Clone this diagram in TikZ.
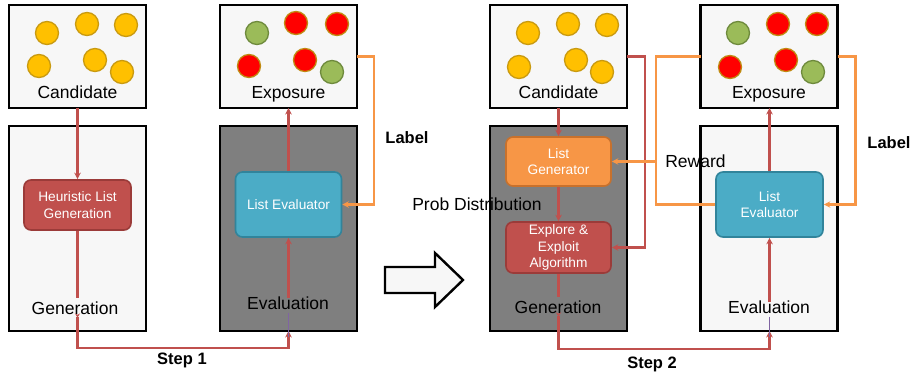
\documentclass[tikz,border=0pt]{standalone}
\usepackage{fontspec}
\setmainfont{Liberation Sans}
\usetikzlibrary{arrows.meta,calc}
\definecolor{boxfill}{HTML}{F7F7F7}
\definecolor{darkfill}{HTML}{7F7F7F}
\definecolor{ycfill}{HTML}{FFC000}
\definecolor{ycdraw}{HTML}{C99A10}
\definecolor{rcfill}{HTML}{FF0000}
\definecolor{rcdraw}{HTML}{C08A10}
\definecolor{gcfill}{HTML}{9BBB59}
\definecolor{gcdraw}{HTML}{6E8A3C}
\definecolor{redc}{HTML}{C0504D}
\definecolor{redcd}{HTML}{9B3B39}
\definecolor{bluec}{HTML}{4BACC6}
\definecolor{bluecd}{HTML}{31849B}
\definecolor{orc}{HTML}{F79646}
\definecolor{orcd}{HTML}{C8712C}
\definecolor{purp}{HTML}{8064A2}
\begin{document}
\begin{tikzpicture}[x=1pt,y=-1pt,
  bigbox/.style={draw=black, line width=2.4pt, fill=boxfill, minimum width=137pt, inner sep=0pt, outer sep=0pt},
  topbox/.style={bigbox, minimum height=103pt},
  lowbox/.style={bigbox, minimum height=205pt},
  darkbox/.style={lowbox, fill=darkfill},
  lbl/.style={font=\fontsize{17.5}{20}\selectfont, text height=12.6pt, text depth=0pt, inner sep=2pt},
  blbl/.style={font=\fontsize{16.5}{20}\selectfont\bfseries, text height=12pt, text depth=0pt, inner sep=2pt},
  rbox/.style={rounded corners=7pt, line width=1.6pt, text=white, align=center, font=\fontsize{13.7}{16.5}\selectfont, inner sep=0pt},
  heurbox/.style={rbox, fill=redc, draw=redcd},
  evalbox/.style={rbox, fill=bluec, draw=bluecd},
  genbox/.style={rbox, fill=orc, draw=orcd},
  ycirc/.style={fill=ycfill, draw=ycdraw, line width=1.3pt},
  rcirc/.style={fill=rcfill, draw=rcdraw, line width=1.3pt},
  gcirc/.style={fill=gcfill, draw=gcdraw, line width=1.3pt},
  redln/.style={draw=redc, line width=2.4pt},
  redarr/.style={redln, -{Stealth[length=6.5pt,width=6.5pt]}},
  orln/.style={draw=orc, line width=2.4pt},
  orarr/.style={orln, -{Stealth[length=6.5pt,width=6.5pt]}},
  steparr/.style={redln, {Stealth[length=4pt,width=5pt,reversed]}-{Stealth[length=6.5pt,width=6.5pt]}}
]
\useasboundingbox (0,0) rectangle (915,377);

% ---------- left half ----------
\node[topbox] (cand1) at (77.5,56.5) {};
\node[lowbox] (gen1) at (77.5,228.5) {};
\node[topbox] (exp1) at (288.5,56.5) {};
\node[darkbox] (eval1) at (288.5,228.5) {};

\foreach \cx/\cy in {47/33,87/24,126/25,39/66,95/60,122/72}
  \draw[ycirc] (\cx,\cy) circle (11.5);
\foreach \cx/\cy in {257/33,332/72}
  \draw[gcirc] (\cx,\cy) circle (11.5);
\foreach \cx/\cy in {296/23,337/24,249/66,305/60}
  \draw[rcirc] (\cx,\cy) circle (11.5);

\node[lbl] (cand1t) at (77.5,92.5) {Candidate};
\node[lbl] (exp1t) at (288.5,92.5) {Exposure};
\node[lbl] (gen1t) at (75,308) {Generation};
\node[lbl] (eval1t) at (288,303) {Evaluation};

\node[heurbox, minimum width=107pt, minimum height=50pt] (heur1) at (77.5,205) {Heuristic List\\Generation};
\node[evalbox, minimum width=106pt, minimum height=65pt] (le1) at (288.5,204.5) {List Evaluator};

\draw[redarr] (cand1.south -| heur1.north) -- (heur1.north);
\draw[redln] (heur1.south) -- ([yshift=2pt]gen1t.north -| heur1.south);
\draw[redarr] ([yshift=-3pt]eval1t.north -| le1.south) -- (le1.south);
\draw[redarr] (le1.north) -- (exp1.south -| le1.north);
\coordinate (s1) at (0,348);
\draw[steparr] ([yshift=3pt]gen1t.south -| cand1.south) -- (cand1.south |- s1) -| (eval1.south -| le1.south);
\draw[purp, line width=1pt] ([yshift=-1pt]eval1t.south -| le1.south) -- ([yshift=-6pt]eval1.south -| le1.south);

\draw[orarr] (exp1.east) -- ++(17,0) |- (le1.east);
\node[blbl] (lab1) at (407,137) {Label};
\node[blbl] (step1) at (182,358) {Step 1};

% ---------- big arrow ----------
\draw[fill=boxfill, line width=2.4pt, line join=miter] (385,267) -- (435,267) -- (435,253) -- (463,280) -- (435,307) -- (435,293) -- (385,293) -- cycle;

% ---------- right half ----------
\node[topbox] (cand2) at (558.5,56.5) {};
\node[darkbox] (gen2) at (558.5,228.5) {};
\node[topbox] (exp2) at (769,56.5) {};
\node[lowbox] (eval2) at (769,228.5) {};

\node[lbl] (prob) at (477,204) {Prob Distribution};

\foreach \cx/\cy in {528/33,568/24,607/25,519/67,576/60,602/72}
  \draw[ycirc] (\cx,\cy) circle (11.5);
\foreach \cx/\cy in {738/33,813/72}
  \draw[gcirc] (\cx,\cy) circle (11.5);
\foreach \cx/\cy in {778/24,817/24,730/67,786/60}
  \draw[rcirc] (\cx,\cy) circle (11.5);

\node[lbl] (cand2t) at (558.5,92.5) {Candidate};
\node[lbl] (exp2t) at (769,92.5) {Exposure};
\node[lbl] (gen2t) at (558,307) {Generation};
\node[lbl] (eval2t) at (769,307) {Evaluation};

\node[genbox, minimum width=105pt, minimum height=49pt] (lg) at (558.5,161.5) {List\\Generator};
\node[heurbox, minimum width=105pt, minimum height=51pt] (ee) at (558.5,247.5) {Explore \&\\Exploit\\Algorithm};
\node[evalbox, minimum width=107pt, minimum height=65pt] (le2) at (769.5,204.5) {List\\Evaluator};

\draw[redarr] (cand2.south -| lg.north) -- (lg.north);
\draw[redarr] (lg.south) -- (ee.north);
\draw[redln] (ee.south) -- ([yshift=2pt]gen2t.north -| ee.south);
\draw[redarr] ([yshift=-3pt]eval2t.north -| le2.south) -- (le2.south);
\draw[redarr] (le2.north) -- (exp2.south -| le2.north);
\coordinate (s2) at (0,349);
\draw[steparr] ([yshift=3pt]gen2t.south -| lg.south) -- (lg.south |- s2) -| (eval2.south -| le2.south);
\draw[purp, line width=1pt] ([yshift=-1pt]eval2t.south -| le2.south) -- ([yshift=-6pt]eval2.south -| le2.south);

\draw[redarr] (cand2.east) -- ++(18,0) |- (ee.east);

\coordinate (ox) at (656,0);
\draw[orln] (exp2.west) -- (exp2.west -| ox) |- (le2.west);
\draw[orarr] (ox |- lg.east) -- (lg.east);
\draw[orarr] (exp2.east) -- ++(18,0) |- (le2.east);

\node[lbl] (rew) at (695.5,161) {Reward};
\node[blbl] (lab2) at (889,142) {Label};
\node[blbl] (step2) at (652,362) {Step 2};
\end{tikzpicture}
\end{document}
